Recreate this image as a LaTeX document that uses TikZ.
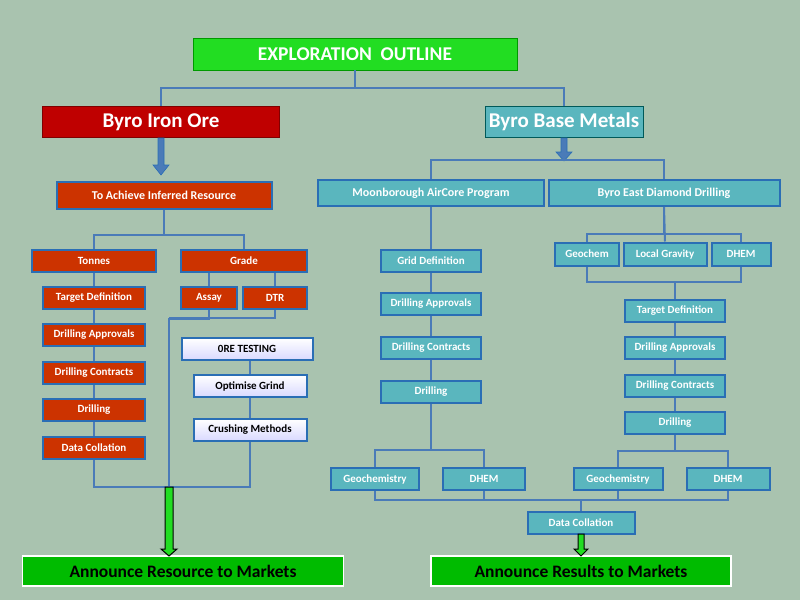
\documentclass[tikz,border=0pt]{standalone}
\usepackage{fontspec}
\setmainfont{Carlito}
\usetikzlibrary{arrows.meta}
\definecolor{bgcol}{HTML}{A9C3AF}
\definecolor{linecol}{HTML}{4A7BB8}
\definecolor{redbox}{HTML}{CC3300}
\definecolor{tealbox}{HTML}{5AB6BE}
\definecolor{edgecol}{HTML}{2A6EB5}
\definecolor{topgreen}{HTML}{22DD22}
\definecolor{announce}{HTML}{00BB00}
\tikzset{
  box/.style={draw=edgecol,line width=2pt,rectangle,text=white,font=\bfseries\fontsize{11}{13}\selectfont,inner sep=0pt},
  redb/.style={box,fill=redbox},
  tealb/.style={box,fill=tealbox},
  testb/.style={box,fill=blue!8,text=black,top color=white,bottom color=blue!15},
  annb/.style={draw=white,line width=1.5pt,fill=announce,font=\bfseries\fontsize{17.5}{19}\selectfont,minimum height=30pt},
  link/.style={draw=linecol,line width=2pt},
  bigarrow/.style={draw=edgecol,fill=linecol,line width=0.6pt},
  greenarrow/.style={draw=black,fill=topgreen,line width=1pt}
}
\begin{document}
\begin{tikzpicture}[x=1pt,y=-1pt]
\fill[bgcol] (0,0) rectangle (800,600);
\useasboundingbox (0,0) rectangle (800,600);
% Top level
\node[draw=green!60!black,fill=topgreen,text=white,font=\bfseries\fontsize{19.5}{21}\selectfont,minimum width=324pt,minimum height=32pt] (title) at (355,54) {EXPLORATION\ \ OUTLINE};
\node[draw=red!50!black,fill=red!75!black,text=white,font=\bfseries\fontsize{21}{23}\selectfont,minimum width=237pt,minimum height=31pt] (iron) at (161,122) {Byro Iron Ore};
\node[draw=teal!70!black,fill=tealbox,text=white,font=\bfseries\fontsize{21}{23}\selectfont,minimum width=158pt,minimum height=31pt] (base) at (564,122) {Byro Base Metals};
\draw[link] (title.south) -- ++(0,18) -| (iron.north);
\draw[link] (title.south) -- ++(0,18) -| (base.north);

% Iron ore branch
\node[redb,font=\bfseries\fontsize{12}{14}\selectfont,minimum width=215pt,minimum height=27pt] (infer) at (164,195) {To Achieve Inferred Resource};
\node[redb,minimum width=124pt,minimum height=22pt] (tonnes) at (94,261) {Tonnes};
\node[redb,minimum width=126pt,minimum height=22pt] (grade) at (244,261) {Grade};
\foreach \n/\t/\y in {tdef/Target Definition/298,dapp/Drilling Approvals/335,dcon/Drilling Contracts/373,dril/Drilling/410,dcol/Data Collation/448}
  \node[redb,minimum width=102pt,minimum height=22pt] (\n) at (94,\y) {\t};
\node[redb,minimum width=56pt,minimum height=22pt] (assay) at (209,298) {Assay};
\node[redb,minimum width=64pt,minimum height=22pt] (dtr) at (275,298) {DTR};
\node[testb,minimum width=131pt,minimum height=22pt] (ore) at (247,349) {0RE TESTING};
\node[testb,minimum width=113pt,minimum height=22pt] (grind) at (250,386) {Optimise Grind};
\node[testb,minimum width=113pt,minimum height=22pt] (crush) at (250,430) {Crushing Methods};
\node[annb,minimum width=321pt] (annres) at (183,571) {Announce Resource to Markets};
\coordinate (ironjoin) at (169,487);

\draw[bigarrow] (158,138) -- (164,138) -- (164,165) -- (169,165) -- (161,175) -- (153,165) -- (158,165) -- cycle;
\draw[link] (infer.south) -- ++(0,25) -| (tonnes.north);
\draw[link] (infer.south) -- ++(0,25) -| (grade.north);
\draw[link] (tonnes) -- (tdef) -- (dapp) -- (dcon) -- (dril) -- (dcol);
\draw[link] (dcol.south) |- (ironjoin);
\draw[link] (grade.south -| assay) -- (assay.north);
\draw[link] (grade.south -| dtr) -- (dtr.north);
\draw[link] (assay.south) -- ++(0,9) -| (ironjoin);
\draw[link] (dtr.south) |- (169,318);
\draw[link] (ore.south -| grind) -- (grind) -- (crush);
\draw[link] (crush.south) |- (ironjoin);
\draw[greenarrow] (165,487) -- (173,487) -- (173,549) -- (177,549) -- (169,556) -- (161,549) -- (165,549) -- cycle;

% Base metals branch
\node[tealb,font=\bfseries\fontsize{12}{14}\selectfont,minimum width=226pt,minimum height=26pt] (moon) at (431,193) {Moonborough AirCore Program};
\node[tealb,font=\bfseries\fontsize{12}{14}\selectfont,minimum width=231pt,minimum height=26pt] (east) at (664,193) {Byro East Diamond Drilling};
\draw[bigarrow] (561,138) -- (567,138) -- (567,152) -- (572,152) -- (564,161) -- (556,152) -- (561,152) -- cycle;
\draw[link] (564,160) -| (moon.north);
\draw[link] (564,160) -| (east.north);

\foreach \n/\t/\y in {grid/Grid Definition/261,mapp/Drilling Approvals/304,mcon/Drilling Contracts/348,mdril/Drilling/392}
  \node[tealb,minimum width=100pt,minimum height=22pt] (\n) at (431,\y) {\t};
\draw[link] (moon) -- (grid) -- (mapp) -- (mcon) -- (mdril);
\node[tealb,minimum width=88pt,minimum height=22pt] (mgeo) at (375,479) {Geochemistry};
\node[tealb,minimum width=82pt,minimum height=22pt] (mdhem) at (484,479) {DHEM};
\draw[link] (mdril.south) -- ++(0,46) -| (mgeo.north);
\draw[link] (mdril.south) -- ++(0,46) -| (mdhem.north);

\node[tealb,minimum width=64pt,minimum height=23pt] (geochem) at (587,254) {Geochem};
\node[tealb,minimum width=83pt,minimum height=23pt] (grav) at (665,254) {Local Gravity};
\node[tealb,minimum width=59pt,minimum height=23pt] (edhem) at (741,254) {DHEM};
\draw[link] (east.south) -- ++(0,27) -| (geochem.north);
\draw[link] (east.south) -- ++(0,27) -| (edhem.north);
\draw[link] (east.south) -- (grav.north);
\foreach \n/\t/\y in {etdef/Target Definition/311,eapp/Drilling Approvals/348,econ/Drilling Contracts/386,edril/Drilling/423}
  \node[tealb,minimum width=100pt,minimum height=22pt] (\n) at (675,\y) {\t};
\draw[link] (geochem.south) -- ++(0,15) -| (edhem.south);
\draw[link] (675,281) -- (etdef) -- (eapp) -- (econ) -- (edril);
\node[tealb,minimum width=89pt,minimum height=22pt] (egeo) at (618,479) {Geochemistry};
\node[tealb,minimum width=83pt,minimum height=22pt] (edhem2) at (728,479) {DHEM};
\draw[link] (edril.south) -- ++(0,16) -| (egeo.north);
\draw[link] (edril.south) -- ++(0,16) -| (edhem2.north);

\node[tealb,minimum width=107pt,minimum height=22pt] (bcol) at (581,523) {Data Collation};
\draw[link] (mgeo.south) -- ++(0,9) -| (edhem2.south);
\draw[link] (mdhem.south) -- ++(0,9);
\draw[link] (egeo.south) -- ++(0,9);
\draw[link] (bcol.north) -- ++(0,-12);
\node[annb,minimum width=300pt] (annbase) at (581,571) {Announce Results to Markets};
\draw[greenarrow] (578,534) -- (584,534) -- (584,549) -- (588,549) -- (581,556) -- (574,549) -- (578,549) -- cycle;
\end{tikzpicture}
\end{document}
